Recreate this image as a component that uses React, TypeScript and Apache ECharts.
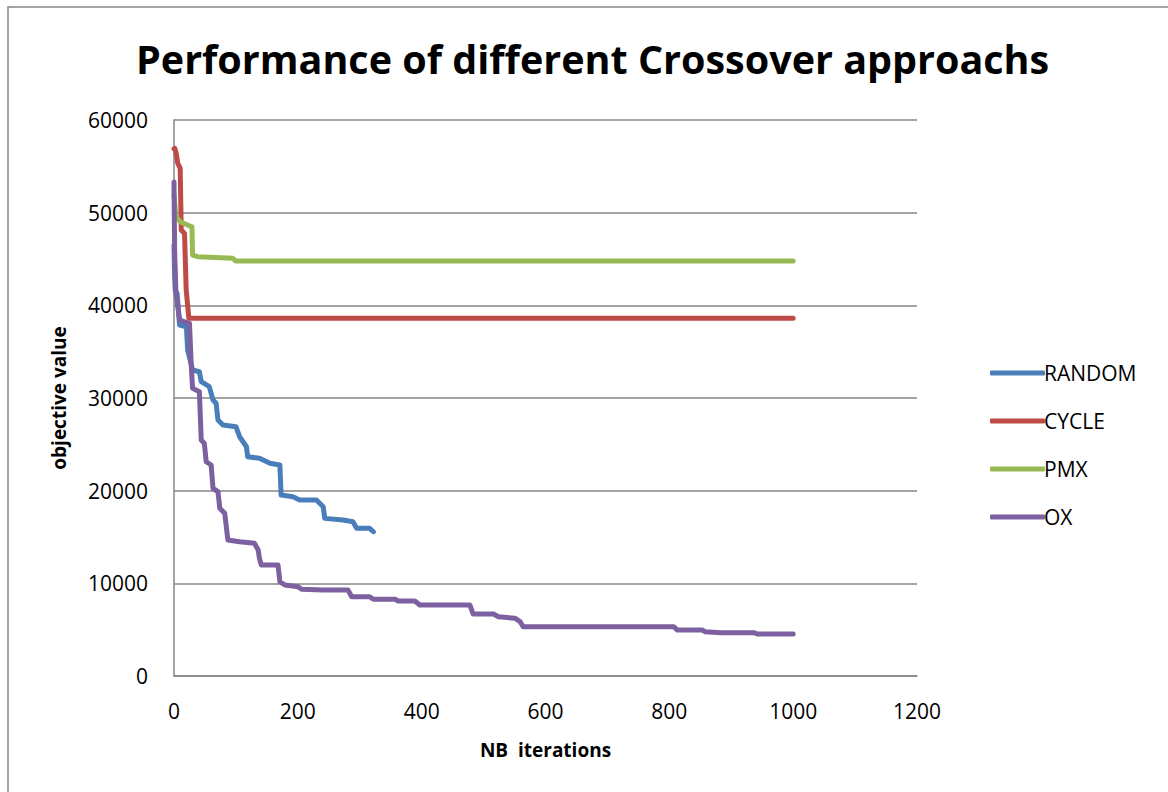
import React, { useEffect, useRef } from "react";
import * as echarts from "echarts";

const seriesNames = ["RANDOM", "CYCLE", "PMX", "OX"];
const seriesColors = ["#4A7EBB", "#BE4B48", "#98B954", "#7D60A0"];

const xTicks = [0, 200, 400, 600, 800, 1000, 1200];
const yTicks = [0, 10000, 20000, 30000, 40000, 50000, 60000];

const randomData: [number, number][] = [
  [0, 46500], [1, 43000], [2, 41600], [5, 41300], [9, 37870], [20, 37690],
  [22, 35175], [30, 33020], [41, 32830], [44, 31760], [57, 31220], [63, 29780],
  [68, 29430], [71, 27620], [79, 27080], [100, 26900], [106, 25820], [117, 24740],
  [119, 23660], [138, 23490], [155, 22950], [171, 22770], [173, 19530], [192, 19350],
  [203, 18990], [230, 18990], [241, 18270], [243.5, 17010], [273, 16830], [289, 16650],
  [295, 15940], [316, 15940], [322, 15570],
];

const cycleData: [number, number][] = [
  [0, 56900], [1.3, 56940], [3.6, 56400], [6.1, 55320], [10, 54780], [11.7, 48120],
  [17, 47760], [19.7, 41650], [24, 38600], [1000, 38600],
];

const pmxData: [number, number][] = [
  [0, 52000], [3, 49600], [10, 49020], [22, 48660], [29, 48480], [30, 45430],
  [38.5, 45250], [95, 45070], [100, 44780], [1000, 44780],
];

const oxData: [number, number][] = [
  [0, 53300], [1, 46000], [3, 41500], [6, 40000], [9, 38410], [25, 38060],
  [28, 33380], [30, 31040], [41, 30680], [44, 25460], [49, 25100], [52, 23120],
  [60, 22770], [63, 20250], [71, 19890], [74, 18090], [82, 17550], [87, 14670],
  [106, 14490], [130, 14320], [136, 13600], [138, 12700], [141, 11980], [168, 11980],
  [171, 10180], [179, 9820], [200, 9640], [206, 9360], [241, 9280], [281, 9280],
  [287, 8560], [316, 8560], [322, 8280], [357, 8280], [362, 8090], [389, 8090],
  [397, 7660], [478, 7660], [483, 6690], [516, 6690], [524, 6400], [551, 6220],
  [559, 5860], [564, 5320], [807, 5320], [813, 4960], [853, 4960], [858, 4780],
  [883, 4670], [937, 4670], [942, 4530], [1000, 4530],
];

const allData = [randomData, cycleData, pmxData, oxData];

const FONT = "'Open Sans', 'Noto Sans', sans-serif";

export default function App() {
  const ref = useRef<HTMLDivElement>(null);
  useEffect(() => {
    if (!ref.current) return;
    const chart = echarts.init(ref.current, undefined, { renderer: "svg" });
    chart.setOption({
      animation: false,
      backgroundColor: "#ffffff",
      textStyle: { fontFamily: FONT },
      title: {
        text: "Performance of different Crossover approachs",
        left: 131,
        top: 34,
        textStyle: { fontFamily: FONT, fontSize: 39.5, fontWeight: "bold", color: "#000" },
      },
      graphic: [
        {
          type: "rect",
          shape: { x: 8, y: 7, width: 1400, height: 1000 },
          style: { fill: "none", stroke: "#868686", lineWidth: 1.5 },
          silent: true,
        },
      ],
      legend: {
        orient: "vertical",
        left: 985,
        top: 357,
        itemWidth: 55,
        itemHeight: 5,
        itemGap: 26,
        icon: "roundRect",
        data: seriesNames,
        textStyle: { fontFamily: FONT, fontSize: 21, color: "#000", lineHeight: 22, padding: [0, 0, 0, -6] },
      },
      grid: { left: 174, right: 1168 - 917, top: 120, bottom: 792 - 676, containLabel: false },
      xAxis: {
        type: "value",
        min: xTicks[0],
        max: xTicks[xTicks.length - 1],
        interval: 200,
        name: "NB  iterations",
        nameLocation: "middle",
        nameGap: 64,
        nameTextStyle: { fontFamily: FONT, fontSize: 19, fontWeight: "bold", color: "#000" },
        axisLine: { show: true, lineStyle: { color: "#868686", width: 1.5 } },
        axisTick: { show: false },
        splitLine: { show: false },
        axisLabel: { fontFamily: FONT, fontSize: 21, color: "#000", margin: 24, formatter: (v: number) => String(v) },
      },
      yAxis: {
        type: "value",
        min: yTicks[0],
        max: yTicks[yTicks.length - 1],
        interval: 10000,
        name: "objective value",
        nameLocation: "middle",
        nameGap: 106,
        nameRotate: 90,
        nameTextStyle: { fontFamily: FONT, fontSize: 19, fontWeight: "bold", color: "#000" },
        axisLine: { show: true, lineStyle: { color: "#868686", width: 1.5 } },
        axisTick: { show: false },
        splitLine: { show: true, lineStyle: { color: "#868686", width: 1.5 } },
        axisLabel: { fontFamily: FONT, fontSize: 21, color: "#000", margin: 26, formatter: (v: number) => String(v) },
      },
      series: seriesNames.map((name, i) => ({
        name,
        type: "line",
        data: allData[i],
        showSymbol: false,
        symbol: "none",
        color: seriesColors[i],
        lineStyle: { color: seriesColors[i], width: 5, cap: "round", join: "round" },
        itemStyle: { color: seriesColors[i] },
        z: i === 3 ? 3 : 2,
      })),
    });
    return () => chart.dispose();
  }, []);
  return <div ref={ref} style={{ position: "fixed", left: 0, top: 0, width: 1168, height: 792 }} />;
}
